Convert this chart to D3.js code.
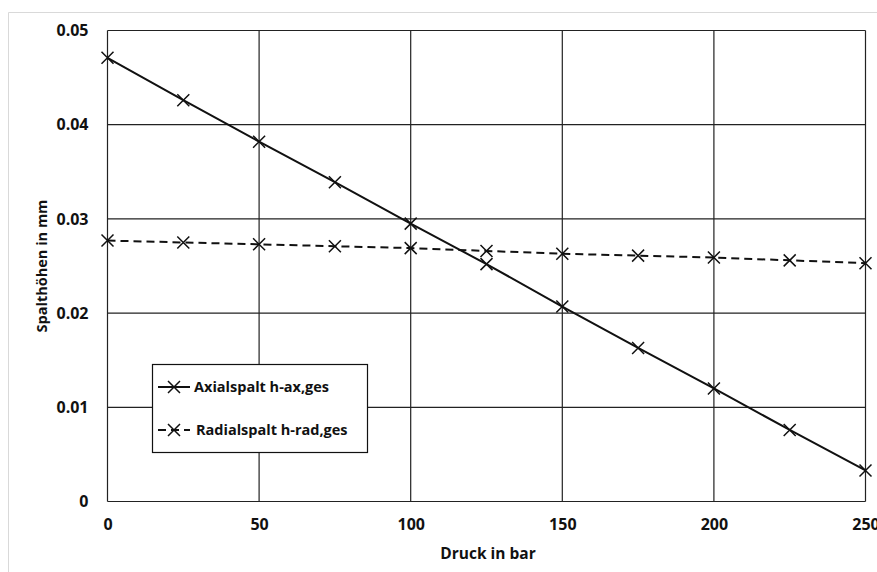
<!DOCTYPE html>
<html><head><meta charset="utf-8">
<script src="https://cdn.jsdelivr.net/npm/d3@7"></script>
<style>body{margin:0;background:#fff}svg{display:block}text{font-family:"Open Sans",sans-serif;font-weight:700;fill:#111}</style>
</head><body>
<script>
const pressure = [0,25,50,75,100,125,150,175,200,225,250];
const axial = [0.0471,0.0426,0.0382,0.0339,0.0295,0.0252,0.0207,0.0163,0.0120,0.0076,0.0033];
const radial = [0.0277,0.0275,0.0273,0.0271,0.0269,0.0266,0.0263,0.0261,0.0259,0.0256,0.0253];
const xTicks = [0,50,100,150,200,250];
const yTicks = [0,0.01,0.02,0.03,0.04,0.05];
const seriesNames = ["Axialspalt h-ax,ges","Radialspalt h-rad,ges"];

const W=877,H=572;
const svg=d3.select("body").append("svg").attr("width",W).attr("height",H);
svg.append("path").attr("d","M8.5,572 V12.5 H877").attr("fill","none").attr("stroke","#d9d9d9").attr("stroke-width",1);

const x=d3.scaleLinear().domain([0,250]).range([107.5,865.5]);
const y=d3.scaleLinear().domain([0,0.05]).range([501.5,30.5]);

const grid=svg.append("g");
grid.selectAll(".v").data(xTicks).join("line").attr("x1",d=>x(d)).attr("x2",d=>x(d)).attr("y1",y(0)).attr("y2",y(0.05)).attr("stroke","#222").attr("stroke-width",1.2);
grid.selectAll(".h").data(yTicks).join("line").attr("y1",d=>y(d)).attr("y2",d=>y(d)).attr("x1",x(0)).attr("x2",x(250)).attr("stroke","#222").attr("stroke-width",1.2);

const yAxis=d3.axisLeft(y).tickValues(yTicks).tickSize(0).tickPadding(19).tickFormat(d=>d===0?"0":d3.format(".2f")(d));
const ga=svg.append("g").attr("transform",`translate(${x(0)},0)`).call(yAxis);
ga.select(".domain").remove();
ga.selectAll("text").attr("font-size",16).attr("font-family","Open Sans").attr("font-weight","700").attr("fill","#111");
const xAxis=d3.axisBottom(x).tickValues(xTicks).tickSize(0).tickPadding(17);
const gx=svg.append("g").attr("transform",`translate(0,${y(0)})`).call(xAxis);
gx.select(".domain").remove();
gx.selectAll("text").attr("font-size",16).attr("font-family","Open Sans").attr("font-weight","700").attr("fill","#111");

svg.append("text").attr("x",488).attr("y",559).attr("text-anchor","middle").attr("font-size",15.5).text("Druck in bar");
svg.append("text").attr("transform","translate(47,266) rotate(-90)").attr("text-anchor","middle").attr("font-size",14.5).text("Spalthöhen in mm");

const line=d3.line();
function drawSeries(vals,dash){
  const pts=pressure.map((p,i)=>[x(p),y(vals[i])]);
  svg.append("path").attr("d",line(pts)).attr("fill","none").attr("stroke","#111").attr("stroke-width",2).attr("stroke-dasharray",dash);
  const s=6;
  svg.append("g").selectAll("path").data(pts).join("path")
    .attr("d",d=>`M${d[0]-s},${d[1]-s}L${d[0]+s},${d[1]+s}M${d[0]-s},${d[1]+s}L${d[0]+s},${d[1]-s}`)
    .attr("stroke","#111").attr("stroke-width",1.5).attr("fill","none");
}
drawSeries(axial,null);
drawSeries(radial,"8,5");

const lg=svg.append("g");
lg.append("rect").attr("x",152.5).attr("y",364.5).attr("width",215).attr("height",88).attr("fill","#fff").attr("stroke","#111").attr("stroke-width",1.2);
const rows=[{name:seriesNames[0],dash:null,yy:387},{name:seriesNames[1],dash:"8,5",yy:430}];
rows.forEach(r=>{
  lg.append("line").attr("x1",158).attr("x2",190).attr("y1",r.yy).attr("y2",r.yy).attr("stroke","#111").attr("stroke-width",2).attr("stroke-dasharray",r.dash);
  const cx=174,s=6;
  lg.append("path").attr("d",`M${cx-s},${r.yy-s}L${cx+s},${r.yy+s}M${cx-s},${r.yy+s}L${cx+s},${r.yy-s}`).attr("stroke","#111").attr("stroke-width",1.5);
  lg.append("text").attr("x",r.dash?196:194).attr("y",r.yy+5).attr("font-size",14.5).text(r.name);
});
</script>
</body></html>
